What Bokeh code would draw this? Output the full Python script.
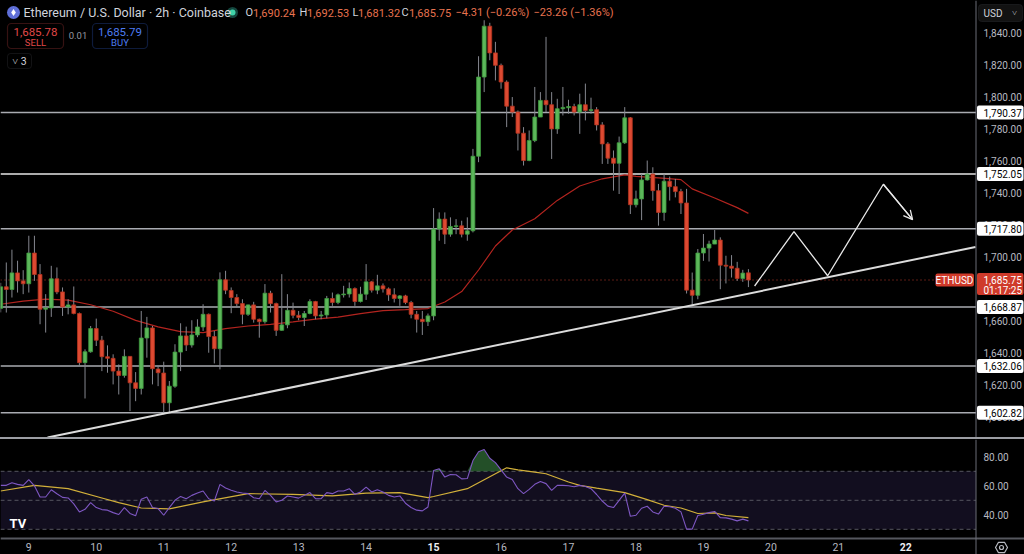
import numpy as np
from bokeh.plotting import figure
from bokeh.layouts import column
from bokeh.models import (Range1d, BoxAnnotation, Label, Arrow, OpenHead, Div, Span)
from bokeh.embed import file_html
from bokeh.resources import INLINE

FONT = "Roboto"

# ------------------------------------------------------------------ data
symbol_title = "Ethereum / U.S. Dollar · 2h · Coinbase"
first_bar = -5          # 2h bars, counted from 9 May 00:00
opens = [1668.0, 1681.5, 1679.8, 1690.2, 1685.2, 1683.4, 1702.6, 1689.2, 1667.5, 1668.3,
         1686.5, 1678.3, 1668.9, 1670.2, 1664.8, 1634.1, 1640.9, 1655.4, 1648.1, 1637.8,
         1636.8, 1628.8, 1626.1, 1638.0, 1621.5, 1618.0, 1649.5, 1655.8, 1630.1, 1627.6,
         1609.0, 1619.4, 1640.7, 1650.8, 1645.1, 1651.4, 1656.4, 1664.3, 1650.4, 1642.8,
         1685.9, 1679.2, 1674.8, 1671.0, 1664.3, 1670.2, 1661.2, 1659.7, 1677.5, 1671.0,
         1654.3, 1657.7, 1666.8, 1663.7, 1662.3, 1664.8, 1672.3, 1663.3, 1663.9, 1674.2,
         1671.7, 1676.5, 1677.0, 1680.4, 1672.3, 1676.9, 1684.6, 1679.4, 1682.1, 1680.2,
         1676.5, 1674.2, 1675.8, 1671.7, 1664.3, 1661.2, 1659.7, 1663.3, 1717.6, 1723.8,
         1714.4, 1719.2, 1719.6, 1714.4, 1716.5, 1763.1, 1812.6, 1844.4, 1827.7, 1819.9,
         1809.5, 1794.4, 1790.7, 1777.5, 1760.4, 1772.9, 1787.6, 1798.0, 1795.3, 1780.2,
         1792.8, 1793.4, 1794.2, 1790.7, 1795.3, 1791.7, 1792.2, 1782.7, 1770.8, 1761.9,
         1758.7, 1771.5, 1787.1, 1732.8, 1736.4, 1748.3, 1752.0, 1741.6, 1728.0, 1747.5,
         1744.1, 1741.0, 1733.9, 1679.4, 1676.2, 1702.6, 1705.7, 1708.2, 1710.7, 1695.0,
         1694.4, 1693.1, 1686.7, 1690.24]
highs = [1684.0, 1696.7, 1704.7, 1697.8, 1691.9, 1713.4, 1713.4, 1695.7, 1676.9, 1694.6,
         1693.6, 1681.1, 1673.7, 1681.7, 1665.4, 1642.4, 1657.0, 1661.6, 1650.8, 1644.9,
         1639.3, 1633.0, 1642.4, 1638.2, 1628.2, 1666.4, 1662.7, 1657.0, 1632.0, 1634.7,
         1622.6, 1645.6, 1658.7, 1656.6, 1660.6, 1661.2, 1670.6, 1664.8, 1653.9, 1690.5,
         1691.5, 1681.1, 1676.9, 1673.7, 1670.4, 1672.1, 1661.6, 1683.2, 1679.0, 1671.6,
         1689.4, 1676.9, 1671.6, 1666.4, 1666.4, 1673.7, 1672.7, 1666.4, 1675.8, 1677.9,
         1677.3, 1682.1, 1684.2, 1681.1, 1681.5, 1695.7, 1685.2, 1689.0, 1683.6, 1681.1,
         1680.6, 1676.3, 1676.5, 1672.7, 1666.4, 1666.4, 1664.8, 1730.7, 1728.0, 1728.0,
         1724.9, 1723.8, 1722.8, 1724.9, 1767.7, 1825.6, 1848.1, 1846.5, 1834.6, 1821.0,
         1810.5, 1800.1, 1791.7, 1781.3, 1779.2, 1806.4, 1803.2, 1837.7, 1803.2, 1799.0,
         1806.4, 1798.4, 1795.9, 1802.2, 1808.5, 1799.7, 1793.8, 1784.4, 1771.9, 1766.7,
         1775.4, 1793.8, 1787.6, 1741.6, 1752.0, 1760.4, 1756.2, 1745.8, 1752.1, 1750.4,
         1748.9, 1742.7, 1742.7, 1690.4, 1705.1, 1714.5, 1710.3, 1717.0, 1712.4, 1700.9,
         1701.3, 1697.1, 1692.1, 1692.53]
lows = [1665.5, 1665.4, 1674.8, 1677.9, 1676.9, 1677.9, 1685.2, 1658.1, 1652.9, 1662.7,
        1676.9, 1663.3, 1664.3, 1664.3, 1632.0, 1611.7, 1640.3, 1644.5, 1628.8, 1627.8,
        1620.5, 1614.2, 1624.7, 1603.8, 1610.0, 1614.2, 1637.2, 1620.5, 1619.4, 1601.7,
        1602.7, 1618.4, 1628.8, 1641.4, 1643.5, 1650.0, 1653.9, 1640.3, 1633.6, 1629.9,
        1676.9, 1665.0, 1668.5, 1658.1, 1663.3, 1659.1, 1649.7, 1658.5, 1665.4, 1650.8,
        1654.0, 1655.6, 1661.8, 1660.6, 1657.0, 1664.3, 1661.2, 1661.2, 1661.8, 1669.6,
        1670.6, 1674.8, 1674.8, 1669.6, 1671.7, 1673.3, 1677.9, 1676.9, 1677.9, 1672.7,
        1671.7, 1669.6, 1670.6, 1661.8, 1652.9, 1651.4, 1657.0, 1660.6, 1710.3, 1708.2,
        1712.8, 1714.4, 1712.4, 1710.3, 1715.5, 1759.4, 1803.2, 1823.1, 1810.5, 1805.3,
        1781.3, 1787.6, 1766.7, 1757.3, 1760.0, 1771.9, 1787.6, 1790.7, 1761.4, 1777.1,
        1788.6, 1789.7, 1788.6, 1777.1, 1785.5, 1789.7, 1779.2, 1758.3, 1758.3, 1741.6,
        1739.5, 1770.8, 1727.0, 1731.1, 1723.2, 1747.9, 1735.3, 1719.7, 1722.8, 1735.4,
        1737.4, 1727.0, 1677.3, 1669.0, 1673.7, 1697.7, 1697.3, 1708.2, 1680.0, 1683.6,
        1687.3, 1685.2, 1684.6, 1681.32]
closes = [1681.5, 1679.8, 1690.2, 1685.2, 1683.4, 1702.6, 1689.2, 1667.5, 1668.3, 1686.5,
          1678.3, 1668.9, 1670.2, 1664.8, 1634.1, 1640.9, 1655.4, 1648.1, 1637.8, 1636.8,
          1628.8, 1626.1, 1638.0, 1621.5, 1618.0, 1649.5, 1655.8, 1630.3, 1627.8, 1609.0,
          1619.4, 1640.7, 1650.8, 1645.1, 1651.4, 1656.4, 1664.3, 1650.4, 1642.8, 1685.9,
          1679.4, 1674.8, 1671.0, 1664.3, 1670.2, 1661.2, 1659.7, 1677.5, 1671.0, 1654.3,
          1657.7, 1666.8, 1663.7, 1662.3, 1664.8, 1672.3, 1663.3, 1663.9, 1674.2, 1671.7,
          1676.5, 1677.0, 1680.4, 1672.3, 1676.9, 1684.6, 1679.4, 1682.1, 1680.2, 1676.5,
          1674.2, 1675.8, 1671.7, 1664.3, 1661.2, 1659.7, 1663.3, 1717.6, 1723.8, 1714.4,
          1719.2, 1719.6, 1714.4, 1716.5, 1763.1, 1812.6, 1844.4, 1827.7, 1819.9, 1809.5,
          1794.4, 1790.7, 1777.5, 1760.4, 1772.9, 1787.6, 1798.0, 1795.3, 1780.2, 1792.8,
          1793.6, 1794.2, 1790.7, 1795.3, 1791.7, 1792.2, 1782.7, 1770.8, 1761.9, 1758.7,
          1771.5, 1787.1, 1732.8, 1736.4, 1748.3, 1752.0, 1741.6, 1728.0, 1747.5, 1744.1,
          1741.0, 1733.9, 1679.4, 1676.2, 1702.6, 1705.7, 1708.2, 1710.7, 1695.0, 1694.4,
          1693.1, 1686.7, 1690.06, 1685.75]
rsi = [60.3, 60.3, 62.1, 61.0, 60.3, 64.2, 60.0, 52.3, 52.3, 57.3,
       54.5, 52.0, 51.6, 47.5, 42.0, 43.8, 48.4, 45.0, 43.6, 43.2,
       41.5, 40.2, 45.0, 40.9, 39.3, 50.7, 52.3, 45.0, 44.3, 39.7,
       45.0, 50.0, 52.7, 51.1, 53.4, 55.0, 56.4, 51.1, 49.5, 61.0,
       58.5, 57.0, 55.7, 55.0, 54.6, 51.8, 51.1, 56.8, 53.4, 48.9,
       50.0, 53.0, 52.3, 51.5, 53.4, 55.3, 51.1, 51.1, 55.3, 54.6,
       56.4, 56.4, 58.0, 54.1, 55.7, 59.1, 55.7, 57.3, 55.7, 53.4,
       52.3, 53.0, 48.0, 45.0, 43.2, 42.7, 45.4, 70.5, 71.7, 66.0,
       67.8, 67.6, 64.8, 65.0, 77.4, 83.5, 85.0, 79.0, 76.0, 71.0,
       66.0, 64.3, 58.0, 54.6, 57.5, 61.0, 63.0, 61.5, 56.8, 60.3,
       60.3, 60.0, 59.3, 60.3, 59.5, 58.0, 54.0, 49.5, 46.0, 45.0,
       50.0, 55.0, 39.0, 39.7, 44.5, 45.9, 42.0, 40.5, 45.9, 45.5,
       44.5, 42.0, 30.1, 30.1, 39.5, 40.4, 41.5, 42.3, 38.0, 37.9,
       37.0, 35.8, 37.0, 35.8]
ma_idx = [-5, -1, 3, 7, 11, 15, 19, 23, 27, 31, 35, 39, 43, 47, 51, 55, 59, 63, 67, 71,
          74, 77, 80, 83, 86, 90, 94, 98, 102, 106, 108, 112, 116, 118, 122, 126, 128]
ma_val = [1670.6, 1672.5, 1673.8, 1673.2, 1670.3, 1666.2, 1660.5, 1656.5, 1653.5, 1652.9,
          1655.4, 1657.0, 1658.0, 1659.6, 1661.3, 1662.6, 1664.7, 1666.6, 1667.2, 1667.9,
          1672.0, 1678.5, 1692.0, 1707.0, 1717.0, 1724.0, 1735.5, 1744.5, 1749.0, 1751.5,
          1750.5, 1749.6, 1748.5, 1742.7, 1737.0, 1731.0, 1727.4]
rsi_ma_idx = [-5, 1, 7, 13, 16, 20, 25, 31, 39, 47, 54, 60, 66, 71, 72, 78, 81, 85, 87,
              90, 92, 96, 98, 101, 106, 110, 113, 116, 119, 122, 124, 128]
rsi_ma_val = [56.4, 60.3, 58.0, 51.6, 48.4, 44.7, 44.1, 48.9, 54.6, 54.1, 53.0, 55.0,
              55.3, 51.8, 52.6, 58.0, 64.2, 72.4, 71.0, 69.4, 68.3, 62.6, 60.3, 58.4,
              55.3, 50.5, 46.6, 44.7, 40.9, 41.3, 39.5, 38.1]
levels = [1790.37, 1752.05, 1717.80, 1668.87, 1632.06, 1602.82]
trend_x = [3.33, 168.4]
trend_y = [1587.3, 1706.4]
zig_x = [129.1, 136.1, 142.1, 152.0, 157.2]
zig_y = [1682.0, 1716.0, 1688.4, 1745.6, 1723.5]
day_labels = [9, 10, 11, 12, 13, 14, 15, 16, 17, 18, 19, 20, 21, 22]
bold_days = [15, 22]
bid, ask, spread = "1,685.78", "1,685.79", "0.01"
change_24h = "\u221223.26 (\u22121.36%)"
countdown = "01:17:25"
currency = "USD"
ticker_name = "ETHUSD"
price_ticks = [1600, 1620, 1640, 1660, 1680, 1700, 1720, 1740, 1760, 1780, 1800, 1820, 1840]
rsi_ticks = [40, 60, 80]
rsi_bands = [70, 50, 30]

# ------------------------------------------------------------------ layout constants
BAR_PX = 5.622                      # pixels per 2h bar
X0 = -28.3 / BAR_PX
X1 = X0 + 1024 / BAR_PX
AXIS_X = X0 + 975.5 / BAR_PX        # price scale border
P_PX = 1.6                          # pixels per USD
Y_TOP = 1840 + 32.7 / P_PX
Y_BOT = Y_TOP - 437 / P_PX
R_PX = 1.45                         # pixels per RSI point (RSI 50 at y=499.8)


def sx(px):
    return X0 + px / BAR_PX


def sy(py):
    return Y_TOP - py / P_PX


def ry(py):
    return 50 + (499.8 - py) / R_PX


R_TOP, R_BOT = ry(439), ry(554)

BG = "#000000"
TXT = "#b7b9c0"
GREEN, GREEN_E = "#5cb75a", "#3f9a3f"
RED, RED_E = "#dd4a32", "#b2331f"
TAG_RED = "#cf3a2a"
SCALE_FS = "10px"

o = np.array(opens); h = np.array(highs); l = np.array(lows); c = np.array(closes)
idx = np.arange(first_bar, first_bar + len(o))
inc = c >= o
dec = ~inc


def label(fig, x, y, text, color, size=SCALE_FS, align="left", style="normal", font=FONT):
    fig.add_layout(Label(x=x, y=y, text=text, text_color=color, text_font=font,
                         text_font_size=size, text_baseline="middle", text_align=align,
                         text_font_style=style))


def tag(fig, y_mid, half_h, left_px, right_px, fill, radius=2, line=None):
    fig.add_layout(BoxAnnotation(left=sx(left_px), right=sx(right_px),
                                 bottom=y_mid - half_h, top=y_mid + half_h,
                                 fill_color=fill, fill_alpha=1, line_color=line,
                                 border_radius=radius))


# ------------------------------------------------------------------ main pane
p = figure(frame_width=1024, frame_height=437, x_range=Range1d(X0, X1),
           y_range=Range1d(Y_BOT, Y_TOP), output_backend="svg", toolbar_location=None,
           x_axis_location=None, y_axis_location=None,
           min_border_left=0, min_border_right=0, min_border_top=0, min_border_bottom=0,
           background_fill_color=BG, border_fill_color=BG, outline_line_color=None)
p.grid.visible = False

for lv in levels:
    col = "#e6e6e6" if lv == 1752.05 else "#a9abb1"
    p.segment(X0, lv, AXIS_X, lv, line_color=col, line_width=1.5)

p.segment(X0, c[-1], sx(935), c[-1], line_color="#b8382a", line_width=1, line_dash="1 3")

p.line(ma_idx, ma_val, line_color="#b3241f", line_width=1.2)

p.segment(idx, h, idx, l, line_color="#85878f", line_width=1)
p.vbar(x=idx[inc], width=0.68, top=c[inc], bottom=o[inc], fill_color=GREEN, line_color=GREEN_E, line_width=0.8)
p.vbar(x=idx[dec], width=0.68, top=o[dec], bottom=c[dec], fill_color=RED, line_color=RED_E, line_width=0.8)

p.line(trend_x, trend_y, line_color="#dcdcdc", line_width=2)
p.line(zig_x, zig_y, line_color="#e8e8e8", line_width=1.3)
p.add_layout(Arrow(end=OpenHead(size=9, line_color="#e8e8e8", line_width=1.3),
                   x_start=zig_x[-2], y_start=zig_y[-2], x_end=zig_x[-1], y_end=zig_y[-1],
                   line_color="#e8e8e8", line_width=1.3))

# price scale
p.add_layout(Span(location=AXIS_X, dimension="height", line_color="#6a6d76", line_width=1))
for t in price_ticks:
    label(p, sx(983), t, f"{t:,.2f}", TXT)
for lv in levels:
    tag(p, lv, 7 / P_PX, 976.5, 1023, "#ffffff")
    label(p, sx(983), lv, f"{lv:,.2f}", "#000000")
tag(p, c[-1] - 4 / P_PX, 11 / P_PX, 976.5, 1023, TAG_RED)
label(p, sx(983), c[-1], f"{c[-1]:,.2f}", "#ffffff")
label(p, sx(983), sy(290), countdown, "#ffffff")
tag(p, c[-1], 6.5 / P_PX, 935, 973.5, TAG_RED)
label(p, sx(954), c[-1], ticker_name, "#ffffff", align="center")
tag(p, sy(12.5), 8.5 / P_PX, 978, 1022, "#121212", radius=3, line="#3c3f47")
label(p, sx(983), sy(12.5), currency, "#d1d4dc")
label(p, sx(1014), sy(12), "\u02c5", "#d1d4dc", size="9px", align="center")

# header
p.scatter([sx(13)], [sy(12)], size=13, fill_color="#5f6fd8", line_color=None)
p.scatter([sx(13)], [sy(12)], size=7, marker="diamond", fill_color="#ffffff", line_color=None)
label(p, sx(23), sy(12), symbol_title, "#d1d4dc", size="12.5px")
p.scatter([sx(232)], [sy(12)], size=11, fill_color="#14463e", line_color=None)
p.scatter([sx(232)], [sy(12)], size=6, fill_color="#3fd2a8", line_color=None)

chg = c[-1] - c[-2]
pct = chg / c[-2] * 100
VAL = "#e8734f"
ohlc_parts = [("O", "#d1d4dc", 245), (f"{o[-1]:,.2f}", VAL, 252.5),
              ("H", "#d1d4dc", 299), (f"{h[-1]:,.2f}", VAL, 306.5),
              ("L", "#d1d4dc", 352), (f"{l[-1]:,.2f}", VAL, 357.5),
              ("C", "#d1d4dc", 401), (f"{c[-1]:,.2f}", VAL, 408.5),
              (f"{chg:+.2f} ({pct:+.2f}%)".replace("-", "\u2212"), VAL, 455),
              (change_24h, VAL, 533)]
for t, colr, xp in ohlc_parts:
    label(p, sx(xp), sy(12), t, colr, size="11px")

# sell / buy boxes
p.add_layout(BoxAnnotation(left=sx(7), right=sx(63), top=sy(23), bottom=sy(48),
                           fill_alpha=0, line_color="#b23a3a", line_width=1.2, border_radius=4))
p.add_layout(BoxAnnotation(left=sx(92), right=sx(147), top=sy(23), bottom=sy(48),
                           fill_alpha=0, line_color="#2e58c4", line_width=1.2, border_radius=4))
p.add_layout(BoxAnnotation(left=sx(7), right=sx(31), top=sy(53), bottom=sy(68),
                           fill_alpha=0, line_color="#3a3c42", line_width=1, border_radius=3))
for t, colr, xp, yp, fs in [(bid, "#e04848", 35, 31.5, "11.5px"), ("SELL", "#e04848", 35, 42, "9.5px"),
                            (ask, "#4d7cf2", 119.5, 31.5, "11.5px"), ("BUY", "#4d7cf2", 119.5, 42, "9.5px"),
                            (spread, "#9598a1", 77.5, 35, "9.5px"), ("\u02c5 3", "#d1d4dc", 19, 60.5, "10.5px")]:
    label(p, sx(xp), sy(yp), t, colr, size=fs, align="center")

# ------------------------------------------------------------------ separator
sep = Div(text="", width=1024, height=2, margin=0,
          styles={"background-color": "#9c9ea4"})

# ------------------------------------------------------------------ RSI pane
r = figure(frame_width=1024, frame_height=115, x_range=p.x_range, y_range=Range1d(R_BOT, R_TOP),
           output_backend="svg", toolbar_location=None, x_axis_location=None, y_axis_location=None,
           min_border_left=0, min_border_right=0, min_border_top=0, min_border_bottom=0,
           background_fill_color=BG, border_fill_color=BG, outline_line_color=None)
r.grid.visible = False

r.add_layout(BoxAnnotation(left=X0, right=AXIS_X, bottom=30, top=70, fill_color="#120e1f",
                           fill_alpha=1, line_color=None, level="underlay"))
for lv in rsi_bands:
    r.segment(X0, lv, AXIS_X, lv, line_color="#55565f", line_width=1, line_dash="4 3")
rs = np.array(rsi)
r.varea(x=idx, y1=np.full(len(rs), 70.0), y2=np.maximum(rs, 70.0),
        fill_color="#2f6a35", fill_alpha=0.75)
r.line(rsi_ma_idx, rsi_ma_val, line_color="#d2b03a", line_width=1.2)
r.line(idx, rs, line_color="#7e57c2", line_width=1.1)

# time scale (bottom strip) and price scale
r.segment(X0, ry(538), X1, ry(538), line_color="#55575e", line_width=2)
r.add_layout(Span(location=AXIS_X, dimension="height", line_color="#6a6d76", line_width=1))
for t in rsi_ticks:
    label(r, sx(983), t, f"{t:.2f}", TXT)
for d in day_labels:
    bold = d in bold_days
    label(r, (d - 9) * 12, ry(546.5), str(d), "#eceef2" if bold else TXT, size="10.5px",
          align="center", style="bold" if bold else "normal")
r.scatter([sx(1001)], [ry(547)], size=12, marker="hex", fill_color=None,
          line_color=TXT, line_width=1.2)
r.scatter([sx(1001)], [ry(547)], size=4, marker="circle", fill_color=None,
          line_color=TXT, line_width=1.2)
label(r, sx(9), ry(523), "TV", "#ffffff", size="13px", style="bold")

layout = column(p, sep, r, spacing=0, styles={"background-color": "#000000"})
open("out.html", "w").write(file_html(layout, INLINE))
